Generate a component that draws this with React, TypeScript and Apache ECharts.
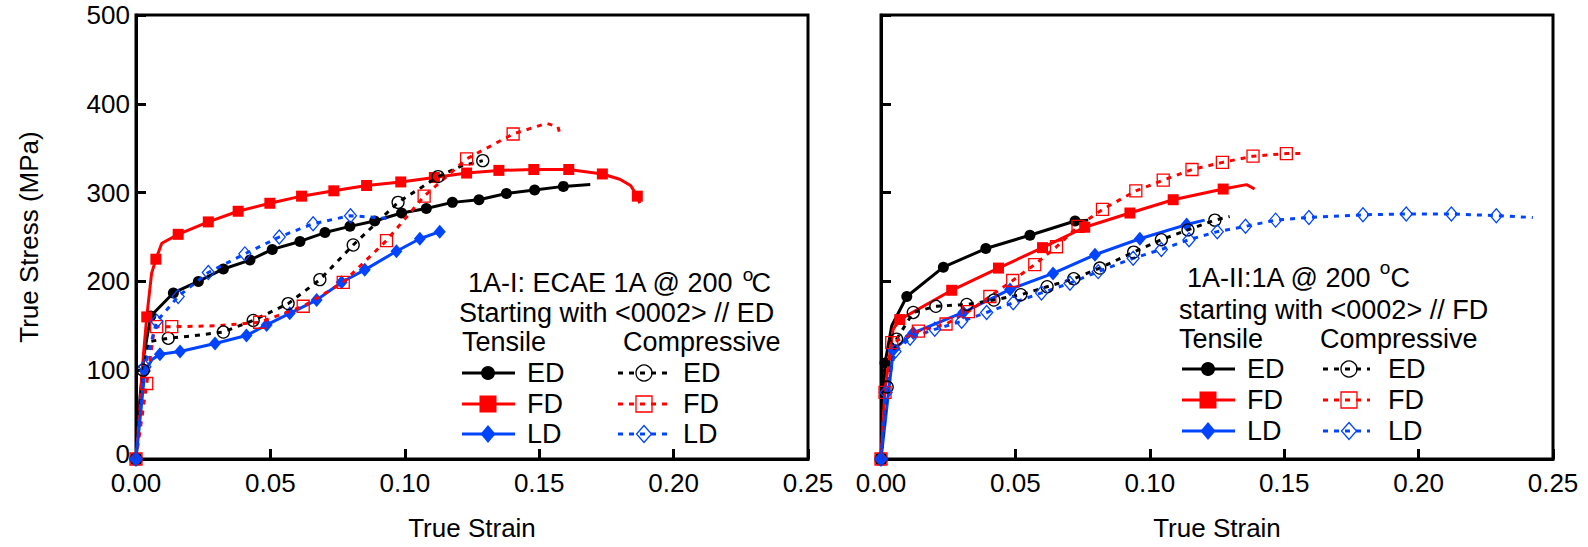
import React, { useEffect, useRef } from 'react';
import * as echarts from 'echarts';

// ---- Data: [true strain, true stress (MPa), marker shown (1) or not (0)] ----
// Panel 1: 1A-I ECAE 1A @ 200 °C, starting with <0002> // ED
const L_ED_TENS = [[0,0,1],[0.0015,70,0],[0.003,118,0],[0.0055,161,1],[0.0139,187,1],[0.0232,200,1],[0.0325,214,1],[0.0424,224,1],[0.0507,236,1],[0.061,245,1],[0.0703,255,1],[0.0796,262,1],[0.0888,268,1],[0.0988,277,1],[0.108,282,1],[0.1177,289,1],[0.1276,292,1],[0.1378,299,1],[0.1483,303,1],[0.159,307,1],[0.169,309,0]];
const L_FD_TENS = [[0,0,1],[0.0015,60,0],[0.0027,115,0],[0.004,160,1],[0.0058,209,0],[0.0074,225,1],[0.0096,243,0],[0.0157,253,1],[0.0269,267,1],[0.038,279,1],[0.0498,288,1],[0.0616,296,1],[0.0736,302,1],[0.0858,308,1],[0.0985,312,1],[0.111,317,1],[0.123,322,1],[0.135,325,1],[0.148,326,1],[0.161,326,1],[0.1735,321,1],[0.18,315,0],[0.184,308,0],[0.1865,296,1],[0.1874,288,0]];
const L_LD_TENS = [[0,0,1],[0.0033,99,1],[0.006,112,0],[0.0089,118,1],[0.0164,121,1],[0.0294,130,1],[0.0411,139,1],[0.0486,151,1],[0.0572,164,1],[0.0672,179,1],[0.0765,199,1],[0.0851,213,1],[0.0969,234,1],[0.1056,248,1],[0.113,256,1]];
const L_ED_COMP = [[0,0,1],[0.0027,100,1],[0.0046,132,0],[0.012,136,1],[0.022,139,0],[0.0325,143,1],[0.0436,156,1],[0.0566,175,1],[0.0684,202,1],[0.0808,241,1],[0.0975,289,1],[0.1124,318,1],[0.121,330,0],[0.129,336,1]];
const L_FD_COMP = [[0,0,1],[0.004,85,1],[0.0065,140,0],[0.0077,149,1],[0.0133,149,1],[0.03,150,0],[0.046,154,1],[0.0622,172,1],[0.0771,199,1],[0.0932,246,1],[0.1072,296,1],[0.123,338,1],[0.1403,366,1],[0.1527,378,0],[0.157,374,0],[0.158,362,0]];
const L_LD_COMP = [[0,0,1],[0.0033,104,1],[0.0077,155,1],[0.0157,183,1],[0.0269,210,1],[0.0405,231,1],[0.0533,250,1],[0.0659,265,1],[0.0798,274,1],[0.0938,271,0]];

// Panel 2: 1A-II:1A @ 200 °C, starting with <0002> // FD
const R_ED_TENS = [[0,0,1],[0.0015,108,1],[0.004,150,0],[0.0096,183,1],[0.0232,216,1],[0.039,237,1],[0.0554,252,1],[0.0722,268,1],[0.0771,269,0]];
const R_FD_TENS = [[0,0,1],[0.0015,78,0],[0.0045,146,0],[0.007,157,1],[0.0263,190,1],[0.0437,215,1],[0.0601,238,1],[0.0758,261,1],[0.0926,277,1],[0.1087,292,1],[0.1273,304,1],[0.136,309,0],[0.139,304,0]];
const R_LD_TENS = [[0,0,1],[0.0046,123,1],[0.012,142,1],[0.0306,165,1],[0.048,191,1],[0.064,209,1],[0.0796,230,1],[0.0963,248,1],[0.1137,264,1],[0.1204,269,0]];
const R_ED_COMP = [[0,0,1],[0.0023,81,1],[0.0058,135,1],[0.012,165,1],[0.0204,172,1],[0.0319,174,1],[0.042,179,1],[0.052,185,1],[0.0618,194,1],[0.0717,203,1],[0.0814,215,1],[0.094,233,1],[0.1043,247,1],[0.1142,258,1],[0.1242,269,1],[0.1297,273,0]];
const R_FD_COMP = [[0,0,1],[0.0015,75,1],[0.004,131,1],[0.0139,144,1],[0.0242,152,1],[0.0325,166,1],[0.0405,183,1],[0.049,201,1],[0.0572,219,1],[0.0653,239,1],[0.0733,262,1],[0.0824,281,1],[0.0948,302,1],[0.105,314,1],[0.1157,326,1],[0.127,334,1],[0.1384,341,1],[0.1508,344,1],[0.1576,344,0]];
const R_LD_COMP = [[0,0,1],[0.0019,75,1],[0.0052,121,1],[0.0108,136,1],[0.02,146,1],[0.03,155,1],[0.0393,165,1],[0.0492,176,1],[0.0597,187,1],[0.0703,198,1],[0.0808,211,1],[0.0938,226,1],[0.1043,236,1],[0.1146,247,1],[0.1251,256,1],[0.1356,262,1],[0.1468,269,1],[0.1592,272,1],[0.1793,275,1],[0.1954,276,1],[0.2122,276,1],[0.2289,274,1],[0.2425,272,0]];

const DIRECTIONS = ['ED', 'FD', 'LD'];
const X_LABEL = 'True Strain';
const Y_LABEL = 'True Stress (MPa)';
const TITLES_1 = ['1A-I: ECAE 1A @ 200', 'Starting with <0002> // ED'];
const TITLES_2 = ['1A-II:1A @ 200', 'starting with <0002> // FD'];
const HEADERS = ['Tensile', 'Compressive'];

// ---- Styles ----
const BLACK = '#000000';
const RED = '#ff0000';
const BLUE = '#0044ff';
const DIR_COLOR = { ED: BLACK, FD: RED, LD: BLUE };
const DIR_SYMBOL = { ED: 'circle', FD: 'rect', LD: 'diamond' };
const FONT = '"Liberation Sans", Arial, Helvetica, sans-serif';
const FS = 26;
const LFS = 27;
const DASH = [5, 6];

const PANELS = [
  {
    data: { ED: [L_ED_TENS, L_ED_COMP], FD: [L_FD_TENS, L_FD_COMP], LD: [L_LD_TENS, L_LD_COMP] },
    titles: TITLES_1,
    grid: { left: 136, top: 15, width: 672, height: 444 },
    leg: { titleX: 468, titleY: 283, oX: 748, oY: 274, cRight: 771, subX: 459, subY: 313, headY: 342, tensX: 462, compX: 623, rows: [373, 404, 434], tL: [462, 515], tM: 488, tT: 527, cL: [618, 667], cM: 644, cT: 683 },
  },
  {
    data: { ED: [R_ED_TENS, R_ED_COMP], FD: [R_FD_TENS, R_FD_COMP], LD: [R_LD_TENS, R_LD_COMP] },
    titles: TITLES_2,
    grid: { left: 881, top: 15, width: 672, height: 444 },
    leg: { titleX: 1187, titleY: 278, oX: 1385, oY: 267, cRight: 1410, subX: 1179, subY: 310, headY: 339, tensX: 1179, compX: 1320, rows: [369, 400, 431], tL: [1182, 1235], tM: 1208, tT: 1247, cL: [1323, 1370], cM: 1349, cT: 1388 },
  },
];

function symbolGraphic(dir: string, comp: boolean, cx: number, cy: number) {
  const c = DIR_COLOR[dir];
  const style = comp ? { fill: 'none', stroke: c, lineWidth: 1.3 } : { fill: c, stroke: c, lineWidth: 0 };
  if (dir === 'ED') {
    const r = comp ? 8 : 7;
    return { type: 'circle', shape: { cx, cy, r }, style, z: 101 };
  }
  if (dir === 'FD') {
    const h = comp ? 8 : 8.5;
    return { type: 'rect', shape: { x: cx - h, y: cy - h, width: 2 * h, height: 2 * h }, style, z: 101 };
  }
  const w = 7.5;
  const hh = comp ? 8.5 : 9;
  return { type: 'polygon', shape: { points: [[cx, cy - hh], [cx + w, cy], [cx, cy + hh], [cx - w, cy]] }, style, z: 101 };
}

function text(t: string, x: number, y: number, align: string, size = LFS) {
  return {
    type: 'text', x, y, z: 100,
    style: { text: t, fontSize: size, fontFamily: FONT, fill: '#000', textAlign: align, textVerticalAlign: 'middle' },
  };
}

export default function App() {
  const ref = useRef<HTMLDivElement>(null);
  useEffect(() => {
    if (!ref.current) return;
    const chart = echarts.init(ref.current, null, { renderer: 'svg' });

    const axisLabel = { fontSize: FS, fontFamily: FONT, color: '#000' };
    const grids: any[] = [];
    const xAxes: any[] = [];
    const yAxes: any[] = [];
    const series: any[] = [];
    const graphics: any[] = [];

    PANELS.forEach((p, pi) => {
      grids.push({ ...p.grid, show: true, borderColor: '#000', borderWidth: 3, backgroundColor: 'transparent' });
      xAxes.push({
        gridIndex: pi, type: 'value', min: 0, max: 0.25, interval: 0.05,
        name: X_LABEL, nameLocation: 'middle', nameGap: 56,
        nameTextStyle: { fontSize: FS, fontFamily: FONT, color: '#000' },
        axisLine: { show: true, lineStyle: { color: '#000', width: 3 } },
        axisTick: { show: true, inside: true, length: 10, lineStyle: { color: '#000', width: 3 } },
        axisLabel: { ...axisLabel, margin: 13, lineHeight: 22, formatter: (v: number) => v.toFixed(2), showMaxLabel: true, showMinLabel: true },
        splitLine: { show: false },
      });
      yAxes.push({
        gridIndex: pi, type: 'value', min: 0, max: 500, interval: 100,
        name: pi === 0 ? Y_LABEL : '', nameLocation: 'middle', nameGap: 94,
        nameTextStyle: { fontSize: FS, fontFamily: FONT, color: '#000' },
        axisLine: { show: true, lineStyle: { color: '#000', width: 3 } },
        axisTick: { show: true, inside: true, length: 10, lineStyle: { color: '#000', width: 3 } },
        axisLabel: {
          ...axisLabel, show: pi === 0, margin: 6, lineHeight: 19,
          formatter: (v: number) => (v === 0 ? '{z|0}' : String(v)),
          rich: { z: { fontSize: FS, fontFamily: FONT, color: '#000', lineHeight: 19, padding: [0, 0, 10, 0] } },
        },
        splitLine: { show: false },
      });

      DIRECTIONS.forEach((dir) => {
        [0, 1].forEach((k) => {
          const comp = k === 1;
          const c = DIR_COLOR[dir];
          const sym = DIR_SYMBOL[dir];
          const size = dir === 'LD' ? [12, 14] : comp ? 12 : 11;
          series.push({
            type: 'line',
            name: `${pi === 0 ? '1A-I' : '1A-II'} ${comp ? 'Compressive' : 'Tensile'} ${dir}`,
            xAxisIndex: pi, yAxisIndex: pi,
            data: p.data[dir][k].map((d: number[]) => ({ value: [d[0], d[1]], symbol: d[2] ? sym : 'none' })),
            showAllSymbol: true,
            symbolSize: size,
            itemStyle: comp ? { color: 'rgba(255,255,255,0)', borderColor: c, borderWidth: 1.3 } : { color: c, borderColor: c, borderWidth: 0 },
            lineStyle: { color: c, width: 3, type: comp ? DASH : 'solid' },
            z: comp ? 3 : 2,
          });
        });
      });

      // legend block (drawn text)
      const L = p.leg;
      graphics.push(text(p.titles[0], L.titleX, L.titleY, 'left'));
      graphics.push(text('o', L.oX, L.oY, 'center', 19));
      graphics.push(text('C', L.cRight, L.titleY, 'right'));
      graphics.push(text(p.titles[1], L.subX, L.subY, 'left'));
      graphics.push(text(HEADERS[0], L.tensX, L.headY, 'left'));
      graphics.push(text(HEADERS[1], L.compX, L.headY, 'left'));
      DIRECTIONS.forEach((dir, ri) => {
        const y = L.rows[ri];
        const c = DIR_COLOR[dir];
        graphics.push({ type: 'line', z: 100, shape: { x1: L.tL[0], y1: y, x2: L.tL[1], y2: y }, style: { stroke: c, lineWidth: 3 } });
        graphics.push(symbolGraphic(dir, false, L.tM, y));
        graphics.push(text(dir, L.tT, y, 'left'));
        graphics.push({ type: 'line', z: 100, shape: { x1: L.cL[0], y1: y, x2: L.cL[1], y2: y }, style: { stroke: c, lineWidth: 3, lineDash: DASH } });
        graphics.push(symbolGraphic(dir, true, L.cM, y));
        graphics.push(text(dir, L.cT, y, 'left'));
      });
    });

    chart.setOption({
      animation: false,
      backgroundColor: '#ffffff',
      grid: grids,
      xAxis: xAxes,
      yAxis: yAxes,
      series,
      graphic: { elements: graphics },
    });
    return () => chart.dispose();
  }, []);

  return <div ref={ref} style={{ position: 'fixed', left: 0, top: 0, width: 1588, height: 547 }} />;
}
